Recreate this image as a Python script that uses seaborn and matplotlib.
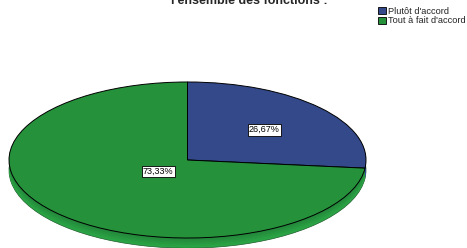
import numpy as np
import matplotlib
matplotlib.use("Agg")
import matplotlib.pyplot as plt
import matplotlib.colors as mcolors
import seaborn as sns

# data (4 of 15 vs 11 of 15)
categories = ["Plutôt d'accord", "Tout à fait d'accord"]
counts = [4, 11]
colors = ["#33498a", "#25923b"]
title = "l'ensemble des fonctions :"

sns.set_theme(style="white")
plt.rcParams['font.family'] = ['Liberation Sans', 'DejaVu Sans']

fig = plt.figure(figsize=(4.67, 2.48), dpi=100)
ax = fig.add_axes([0, 0, 1, 1])

# side of the "3D" pie: stack of shifted pies, darker on top, lighter at the bottom
depth = 0.13
n_layers = 12
side_top = np.array(mcolors.to_rgb("#22843a"))
side_bot = np.array(mcolors.to_rgb("#2ca846"))
for k in range(n_layers, 0, -1):
    t = k / n_layers
    layer_cols = []
    for c in colors:
        base = np.array(mcolors.to_rgb(c))
        shade = side_top * (1 - t) + side_bot * t
        # keep hue of each wedge, use green shading ramp for brightness
        factor = shade / np.array(mcolors.to_rgb("#25923b"))
        layer_cols.append(np.clip(base * factor, 0, 1))
    ax.pie(counts, colors=layer_cols, startangle=90, counterclock=False,
           center=(0, -depth * t), radius=1,
           wedgeprops=dict(linewidth=0.5 if k == n_layers else 0,
                           edgecolor="#1a5a28"))

# top face
wedges, texts, autotexts = ax.pie(
    counts, colors=colors, startangle=90, counterclock=False,
    autopct=lambda p: f"{p:.2f}%".replace(".", ","),
    wedgeprops=dict(linewidth=0.7, edgecolor="black"),
    textprops=dict(fontsize=6.5, color="black"))

# SPSS-style label placement: small slice further out, big slice near centre
label_r = [0.58, 0.22]
for w, at, r in zip(wedges, autotexts, label_r):
    mid = np.deg2rad((w.theta1 + w.theta2) / 2)
    at.set_position((r * np.cos(mid), r * np.sin(mid)))
    at.set_bbox(dict(boxstyle="square,pad=0.15", fc="white", ec="black", lw=0.6))

ax.set_aspect("auto")
ax.set_xlim(-1.0504, 1.5658)
ax.set_ylim(-1.128, 2.051)
ax.axis("off")

# title is partly cut off at the top edge in the original
fig.text(249 / 467, 1 - 4 / 248, title, ha="center", va="baseline",
         fontsize=9, fontweight="bold")

handles = [plt.Rectangle((0, 0), 1, 1, fc=c, ec="black", lw=0.6) for c in colors]
fig.legend(handles, categories, loc="upper left",
           bbox_to_anchor=(378 / 467, 1 - 7 / 248), frameon=False,
           fontsize=6.7, handlelength=0.85, handleheight=0.85, handletextpad=0.25,
           labelspacing=0.05, borderpad=0, borderaxespad=0)

fig.savefig("out.png", dpi=100)
